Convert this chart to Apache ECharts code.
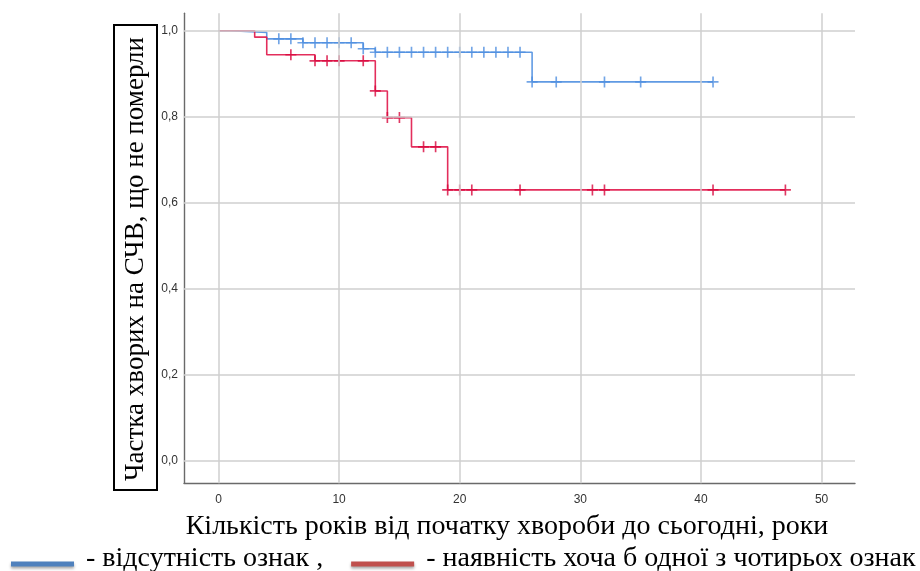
<!DOCTYPE html>
<html><head><meta charset="utf-8">
<script src="https://cdn.jsdelivr.net/npm/echarts@6/dist/echarts.min.js"></script>
<style>html,body{margin:0;padding:0;background:#fff}#c{width:920px;height:571px}</style>
</head><body><div id="c"></div>
<script>
// ---- data ----
const xTicks = [0, 10, 20, 30, 40, 50];
const yTicks = [0, 0.2, 0.4, 0.6, 0.8, 1.0];
const blueName = '- відсутність ознак ,';
const redName = '- наявність хоча б одної з чотирьох ознак';
const yTitle = 'Частка хворих на СЧВ, що не померли';
const xTitle = 'Кількість років від початку хвороби до сьогодні, роки';

// Kaplan–Meier steps [time, survival]
const blueSteps = [[0,1],[1,0.996],[4,0.981],[7,0.972],[12,0.958],[13,0.950],[26,0.881],[41,0.881]];
const blueCensored = [[5,0.981],[6,0.981],[7,0.972],[8,0.972],[9,0.972],[10,0.972],[11,0.972],[12,0.958],
  [13,0.950],[14,0.950],[15,0.950],[16,0.950],[17,0.950],[18,0.950],[19,0.950],[20,0.950],[21,0.950],
  [22,0.950],[23,0.950],[24,0.950],[25,0.950],[26,0.881],[28,0.881],[32,0.881],[35,0.881],[41,0.881]];
const redSteps = [[0,1],[3,0.985],[4,0.944],[8,0.930],[13,0.860],[14,0.798],[16,0.730],[19,0.630],[47,0.630]];
const redCensored = [[6,0.944],[8,0.930],[9,0.930],[10,0.930],[12,0.930],[13,0.860],[14,0.798],[15,0.798],
  [17,0.730],[18,0.730],[19,0.630],[20,0.630],[21,0.630],[25,0.630],[31,0.630],[32,0.630],[41,0.630],[47,0.630]];

const blueColor = '#4f8fe0';
const redColor = '#e0174a';
const plus = 'path://M4.25,0h1.5v10h-1.5z M0,4.25h10v1.5h-10z';
// legend bar drawn in the lower part of its box so it sits a little below the text centre
const legendBar = 'path://M0,0h0.01v0.01h-0.01z M0,10h63v5h-63z';

const chart = echarts.init(document.getElementById('c'), null, {renderer: 'canvas'});
const isMult = (v, step) => Math.abs(v / step - Math.round(v / step)) < 1e-6;

chart.setOption({
  animation: false,
  backgroundColor: '#ffffff',
  grid: {left: 184, right: 65, top: 13.3, bottom: 87.7, containLabel: false},
  xAxis: {
    type: 'value', min: -2.86, max: 52.77,
    axisLine: {show: true, onZero: false, lineStyle: {color: '#6a6a6a', width: 1.4}},
    axisTick: {show: false},
    splitLine: {show: false},
    axisLabel: {
      margin: 10, color: '#333', fontSize: 12, fontFamily: 'Liberation Sans, Arial',
      showMinLabel: false, showMaxLabel: false,
      formatter: v => isMult(v, 10) ? String(Math.round(v)) : ''
    },
    name: xTitle, nameLocation: 'middle', nameGap: 29,
    nameTextStyle: {fontFamily: 'Liberation Serif', fontSize: 28, color: '#000', padding: [0, 25, 0, 0]}
  },
  yAxis: {
    type: 'value', min: -0.0518, max: 1.0404,
    axisLine: {show: true, onZero: false, lineStyle: {color: '#6a6a6a', width: 1.4}},
    axisTick: {show: false},
    splitLine: {show: false},
    axisLabel: {
      margin: 6, color: '#333', fontSize: 12, fontFamily: 'Liberation Sans, Arial',
      showMinLabel: false, showMaxLabel: false,
      formatter: v => isMult(v, 0.2) ? v.toFixed(1).replace('.', ',') : ''
    }
  },
  legend: {
    left: 11, top: 545, padding: 0, itemGap: 28,
    icon: legendBar, itemWidth: 63, itemHeight: 15, symbolKeepAspect: false,
    textStyle: {fontFamily: 'Liberation Serif', fontSize: 28, color: '#000', padding: [0, 0, 0, 7]},
    data: [
      {name: blueName, itemStyle: {color: '#4f81bd', shadowColor: 'rgba(0,0,0,0.35)', shadowBlur: 3, shadowOffsetY: 2}},
      {name: redName, itemStyle: {color: '#c0504d', shadowColor: 'rgba(0,0,0,0.35)', shadowBlur: 3, shadowOffsetY: 2}}
    ]
  },
  graphic: [
    {type: 'rect', shape: {x: 114, y: 25, width: 43, height: 465},
     style: {fill: 'none', stroke: '#000', lineWidth: 2}, z: 10},
    {type: 'text', x: 136, y: 259, rotation: Math.PI / 2, z: 10,
     style: {text: yTitle, font: '27px "Liberation Serif"', fill: '#000', align: 'center', verticalAlign: 'middle'}}
  ],
  series: [
    {
      type: 'line', name: 'grid', data: [], silent: true, z: 1,
      markLine: {
        silent: true, symbol: 'none', label: {show: false}, animation: false,
        lineStyle: {color: '#cfcfcf', width: 1.5, type: 'solid'},
        data: xTicks.map(v => ({xAxis: v})).concat(yTicks.map(v => ({yAxis: v})))
      }
    },
    {type: 'line', name: blueName, step: 'end', data: blueSteps, showSymbol: false, z: 3,
     itemStyle: {color: blueColor}, lineStyle: {color: blueColor, width: 1.6, opacity: 0.9}},
    {type: 'scatter', name: 'blueCens', data: blueCensored, symbol: plus, symbolSize: 11, z: 4,
     itemStyle: {color: blueColor}},
    {type: 'line', name: redName, step: 'end', data: redSteps, showSymbol: false, z: 3,
     itemStyle: {color: redColor}, lineStyle: {color: redColor, width: 1.6, opacity: 0.9}},
    {type: 'scatter', name: 'redCens', data: redCensored, symbol: plus, symbolSize: 11, z: 4,
     itemStyle: {color: '#d8063c'}}
  ]
});
</script></body></html>
